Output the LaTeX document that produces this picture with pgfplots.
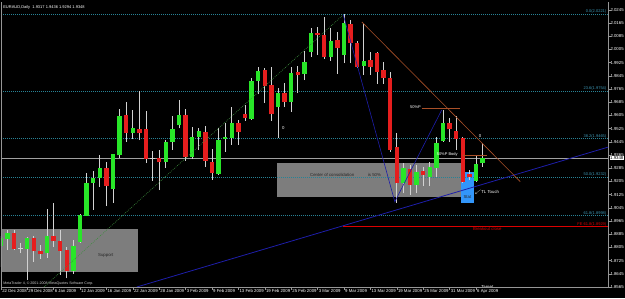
\documentclass[border=0pt]{standalone}
\usepackage{pgfplots}
\pgfplotsset{compat=1.18}
\usepackage{pgfplotstable}
\usepackage{fontspec}
\setmainfont{Liberation Sans}
\newcommand\tf{\fontsize{4.3}{5}\selectfont}
\newcommand\smf{\fontsize{4}{4.6}\selectfont}
\definecolor{bull}{RGB}{40,230,40}
\definecolor{bear}{RGB}{230,30,30}
\definecolor{wick}{RGB}{210,210,210}
\definecolor{fib}{RGB}{40,130,150}
\definecolor{fibtxt}{RGB}{60,150,180}
\definecolor{boxg}{RGB}{125,125,125}
\definecolor{statb}{RGB}{50,150,250}
\definecolor{tlblue}{RGB}{30,30,170}
\definecolor{brownl}{RGB}{170,80,40}
\definecolor{redl}{RGB}{220,0,0}
\definecolor{bid}{RGB}{160,160,160}
\definecolor{axg}{RGB}{150,150,150}
\definecolor{gdot}{RGB}{60,140,60}

\pgfplotstableread{
k o h l c
0 1.8814 1.8874 1.8686 1.8862
1 1.8854 1.8911 1.8789 1.8894
4 1.8795 1.8868 1.8607 1.8860
7 1.8769 1.9038 1.8741 1.8874
11 1.8664 1.8850 1.8644 1.8814
12 1.8840 1.9008 1.8832 1.9002
13 1.8997 1.9256 1.8995 1.9194
14 1.9196 1.9268 1.9032 1.9224
15 1.9224 1.9365 1.9173 1.9284
17 1.9157 1.9372 1.9076 1.9370
18 1.9365 1.9643 1.9345 1.9602
20 1.9501 1.9638 1.9461 1.9529
25 1.9321 1.9456 1.9288 1.9443
26 1.9446 1.9602 1.9396 1.9521
27 1.9547 1.9699 1.9527 1.9608
29 1.9355 1.9533 1.9341 1.9476
30 1.9476 1.9531 1.9396 1.9511
33 1.9250 1.9531 1.9244 1.9456
34 1.9463 1.9561 1.9386 1.9476
35 1.9467 1.9655 1.9426 1.9561
38 1.9584 1.9834 1.9578 1.9814
39 1.9814 1.9901 1.9735 1.9875
42 1.9655 1.9770 1.9467 1.9743
44 1.9689 1.9901 1.9628 1.9865
46 1.9857 1.9996 1.9820 1.9929
47 1.9990 2.0134 1.9960 2.0104
50 1.9958 2.0133 1.9936 2.0059
52 1.9972 2.0221 1.9922 2.0164
55 1.9905 2.0160 1.9851 1.9933
61 1.9194 1.9315 1.9133 1.9285
63 1.9184 1.9305 1.9133 1.9264
65 1.9230 1.9325 1.9177 1.9291
66 1.9285 1.9476 1.9234 1.9440
67 1.9452 1.9638 1.9446 1.9558
72 1.9208 1.9365 1.9204 1.9309
73 1.9317 1.9436 1.9294 1.9348
}\bull

\pgfplotstableread{
k o h l c
2 1.8894 1.8911 1.8789 1.8794
5 1.8862 1.8874 1.8718 1.8785
6 1.8783 1.8820 1.8735 1.8763
8 1.8874 1.9076 1.8809 1.8844
9 1.8844 1.8911 1.8638 1.8785
10 1.8789 1.8809 1.8618 1.8664
16 1.9285 1.9323 1.9056 1.9179
19 1.9608 1.9689 1.9446 1.9501
21 1.9523 1.9754 1.9456 1.9497
22 1.9523 1.9632 1.9319 1.9341
24 1.9347 1.9396 1.9153 1.9321
28 1.9608 1.9643 1.9331 1.9355
31 1.9507 1.9541 1.9295 1.9331
32 1.9325 1.9400 1.9214 1.9258
36 1.9558 1.9578 1.9426 1.9503
37 1.9612 1.9669 1.9572 1.9588
40 1.9881 1.9895 1.9683 1.9784
41 1.9790 1.9901 1.9573 1.9612
43 1.9743 1.9800 1.9655 1.9689
45 1.9871 1.9905 1.9740 1.9851
48 2.0107 2.0142 1.9972 2.0093
49 2.0093 2.0204 1.9948 1.9957
51 2.0063 2.0113 1.9857 2.0013
53 2.0160 2.0184 1.9922 2.0043
54 2.0043 2.0057 1.9893 1.9901
56 1.9939 1.9992 1.9851 1.9901
57 1.9982 1.9992 1.9796 1.9871
58 1.9881 1.9929 1.9796 1.9832
59 1.9832 1.9869 1.9384 1.9396
60 1.9416 1.9497 1.9076 1.9194
62 1.9279 1.9305 1.9123 1.9184
64 1.9268 1.9291 1.9177 1.9242
68 1.9558 1.9588 1.9446 1.9521
69 1.9513 1.9602 1.9396 1.9464
70 1.9467 1.9476 1.9194 1.9204
71 1.9248 1.9275 1.9214 1.9230
}\bear

\pgfplotstableread{
k o h l c
3 1.8800 1.8832 1.8771 1.8800
23 1.9345 1.9392 1.9210 1.9345
}\doji

\begin{document}
\begin{tikzpicture}
\path[use as bounding box] (0,0) rectangle (625pt,298pt);
\fill[black] (0,0) rectangle (625pt,298pt);
\begin{axis}[
  at={(1pt,11pt)}, anchor=south west,
  scale only axis, width=607pt, height=285pt,
  xmin=0.03, xmax=92.0, ymin=1.8565, ymax=2.0293,
  axis x line*=bottom, axis y line*=right,
  axis line style={draw=axg, line width=0.6pt},
  tick align=outside, major tick length=2.5pt,
  tick style={draw=axg, line width=0.5pt},
  xtick={0.05,4,8,12,16,20,24,28,32,36,40,44,48,52,56,60,64,68,72},
  xticklabels={22 Dec 2008,29 Dec 2008,6 Jan 2009,12 Jan 2009,16 Jan 2009,22 Jan 2009,28 Jan 2009,3 Feb 2009,9 Feb 2009,13 Feb 2009,19 Feb 2009,25 Feb 2009,3 Mar 2009,9 Mar 2009,13 Mar 2009,19 Mar 2009,25 Mar 2009,31 Mar 2009,6 Apr 2009},
  xticklabel style={anchor=north west, font=\tf, text=white, inner sep=0.5pt, xshift=0.5pt, yshift=1.2pt},
  ytick={1.8565,1.8645,1.8725,1.8805,1.8885,1.8965,1.9045,1.9125,1.9205,1.9285,1.9365,1.9445,1.9525,1.9605,1.9685,1.9765,1.9845,1.9925,2.0005,2.0085,2.0165,2.0245},
  yticklabels={1.8565,1.8645,1.8725,1.8805,1.8885,1.8965,1.9045,1.9125,1.9205,1.9285,1.9365,1.9445,1.9525,1.9605,1.9685,1.9765,1.9845,1.9925,2.0005,2.0085,2.0165,2.0245},
  yticklabel style={anchor=west, font=\tf, text=white, inner sep=0.4pt, xshift=-0.6pt},
]
% boxes
\addplot[fill=boxg, draw=none, forget plot] coordinates {(0.14,1.8658) (20.8,1.8658) (20.8,1.8917) (0.14,1.8917)} -- cycle;
\addplot[fill=boxg, draw=none, forget plot] coordinates {(41.8,1.9113) (69.8,1.9113) (69.8,1.9315) (41.8,1.9315)} -- cycle;
\addplot[fill=statb, draw=none, forget plot] coordinates {(69.7,1.9074) (71.7,1.9074) (71.7,1.9260) (69.7,1.9260)} -- cycle;
% fibonacci levels
\pgfplotsinvokeforeach{2.0221,1.9754,1.9465,1.9232,1.8998}{
  \addplot[fib, line width=0.6pt, dash pattern=on 0.8pt off 1.2pt, forget plot] coordinates {(0.03,#1) (92,#1)};
}
% bid line
\addplot[bid, line width=0.6pt, forget plot] coordinates {(0.03,1.9348) (92,1.9348)};
% candles: wicks
\addplot[forget plot, draw=none, mark=none, error bars/.cd, y dir=plus, y explicit, error mark=none, error bar style={draw=wick, line width=0.8pt}] table[x=k, y=l, y error expr=\thisrow{h}-\thisrow{l}] {\bull};
\addplot[forget plot, draw=none, mark=none, error bars/.cd, y dir=plus, y explicit, error mark=none, error bar style={draw=wick, line width=0.8pt}] table[x=k, y=l, y error expr=\thisrow{h}-\thisrow{l}] {\bear};
\addplot[forget plot, draw=none, mark=none, error bars/.cd, y dir=plus, y explicit, error mark=none, error bar style={draw=wick, line width=0.8pt}] table[x=k, y=l, y error expr=\thisrow{h}-\thisrow{l}] {\doji};
% candles: bodies
\addplot[forget plot, draw=none, mark=none, error bars/.cd, y dir=plus, y explicit, error mark=none, error bar style={draw=bull, line width=4.5pt}] table[x=k, y=o, y error expr=\thisrow{c}-\thisrow{o}] {\bull};
\addplot[forget plot, draw=none, mark=none, error bars/.cd, y dir=plus, y explicit, error mark=none, error bar style={draw=bear, line width=4.5pt}] table[x=k, y=c, y error expr=\thisrow{o}-\thisrow{c}] {\bear};
\addplot[forget plot, only marks, mark=-, mark size=2.3pt, mark options={draw=wick, line width=0.7pt}] table[x=k, y=o] {\doji};
% trend lines
\addplot[gdot, line width=0.6pt, dash pattern=on 0.8pt off 1.2pt, forget plot] coordinates {(6.55,1.8565) (51.85,2.0214)};
\addplot[tlblue, line width=0.8pt, forget plot] coordinates {(20.6,1.8565) (92,1.9413)};
\addplot[tlblue, line width=0.6pt, forget plot] coordinates {(51.9,2.0214) (59.7,1.9082) (66.8,1.9638)};
\addplot[brownl, line width=0.6pt, forget plot] coordinates {(54.7,2.0172) (78.7,1.9204)};
\addplot[redl, line width=1pt, forget plot] coordinates {(51.9,1.8929) (92,1.8929)};
\addplot[brownl, line width=0.6pt, forget plot] coordinates {(63.8,1.9649) (69.6,1.9649)};
\addplot[brownl, line width=0.6pt, forget plot] coordinates {(70.1,1.9365) (73.7,1.9365)};
% texts
\node[font=\tf, text=black!85] at (axis cs:15.9,1.8759) {Support};
\node[font=\tf, text=black!85, anchor=west, inner sep=0pt] at (axis cs:46.85,1.9244) {Center of consolidation};
\node[font=\tf, text=black!85, anchor=west, inner sep=0pt] at (axis cs:55.6,1.9244) {is 50\%};
\node[font=\tf, text=black!85] at (axis cs:70.7,1.9111) {Stat};
\node[font=\tf, text=white, anchor=west, inner sep=0pt] at (axis cs:71.75,1.9141) {$\swarrow$TL Touch};
\node[font=\smf, text=white, anchor=east, inner sep=0.3pt] at (axis cs:63.7,1.9657) {50\%P};
\node[font=\smf, text=white, anchor=east, inner sep=0.3pt] at (axis cs:69.3,1.9370) {50\%P Body};
\node[font=\tf, text=white] at (axis cs:72.6,1.9481) {0};
\node[font=\tf, text=white] at (axis cs:42.8,1.9530) {0};
\node[font=\tf, text=redl] at (axis cs:73.7,1.8916) {Breakout close};
\node[font=\tf, text=white, anchor=center, inner sep=0.2pt] at (axis cs:73.7,1.8560) {Target};
\node[font=\smf, text=white, anchor=north west, inner sep=0pt] at (axis cs:0.35,2.0275) {EURAUD,Daily\ \ 1.9317 1.9436 1.9294 1.9348};
\node[font=\fontsize{3.6}{4}\selectfont, text=wick, anchor=south west, inner sep=0pt] at (axis cs:0.35,1.8572) {MetaTrader 4, \textcopyright{} 2001-2008 MetaQuotes Software Corp.};
% fib labels
\node[font=\smf, text=fibtxt, anchor=south east, inner sep=0.2pt] at (axis cs:91.8,2.0221) {0.0(2.0221)};
\node[font=\smf, text=fibtxt, anchor=south east, inner sep=0.2pt] at (axis cs:91.8,1.9754) {23.6(1.9754)};
\node[font=\smf, text=fibtxt, anchor=south east, inner sep=0.2pt] at (axis cs:91.8,1.9465) {38.2(1.9465)};
\node[font=\smf, text=fibtxt, anchor=south east, inner sep=0.2pt] at (axis cs:91.8,1.9232) {50.0(1.9232)};
\node[font=\smf, text=fibtxt, anchor=south east, inner sep=0.2pt] at (axis cs:91.8,1.8998) {61.8(1.8998)};
\node[font=\smf, text=redl, anchor=south east, inner sep=0.2pt] at (axis cs:91.8,1.8929) {FE 61.8(1.8929)};
\draw[axg, line width=0.6pt] (rel axis cs:0,0) -- (rel axis cs:0,1);
\coordinate (pbox) at (axis cs:92,1.9348);
\end{axis}
\node[fill=white, text=black, font=\tf, inner sep=0.5pt, anchor=west, xshift=1.5pt] at (pbox) {1.9348};
\end{tikzpicture}
\end{document}
